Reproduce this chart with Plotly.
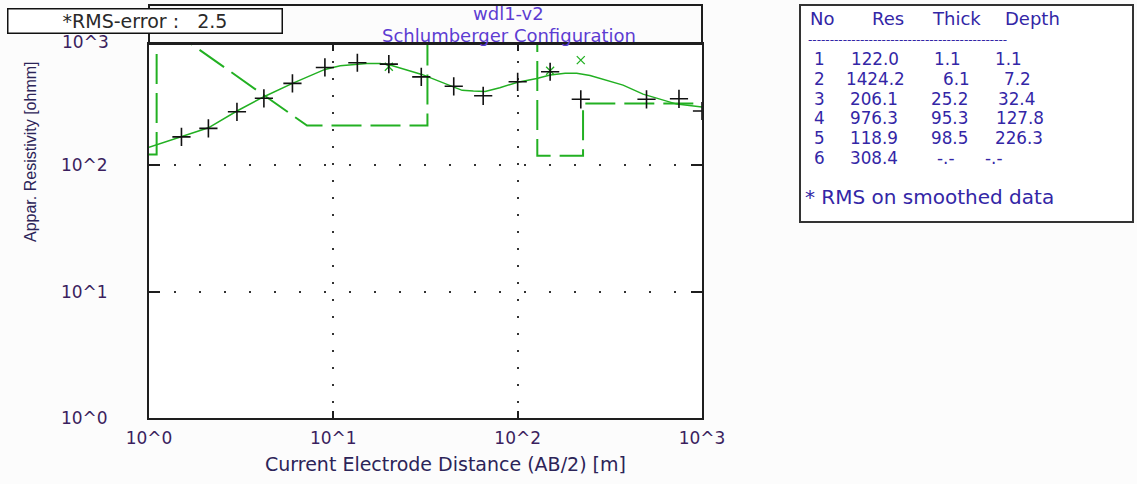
import plotly.graph_objects as go

# Field data: half current-electrode spacing AB/2 [m] and apparent resistivity [ohm.m]
ab2 = [1.5, 2.1, 3.0, 4.2, 6.0, 9.0, 13.5, 20.0, 30.0, 45.0, 65.0, 100.0,
       150.0, 220.0, 500.0, 750.0, 1000.0]
rho_obs = [168, 196, 265, 339, 445, 595, 648, 632, 501, 422, 355, 458,
           550, 333, 333, 336, 269]

# Smoothed readings where they depart from the field values
ab2_smooth = [20.0, 150.0, 220.0]
rho_smooth = [602, 560, 680]

# Calculated sounding curve of the layered model
calc_ab2 = [1.0, 1.5, 2.1, 3.0, 4.2, 6.0, 7.0, 9.0, 10.9, 15.2, 17.9, 20.3,
            30.2, 45.0, 50.0, 57.5, 66.6, 80.0, 100.0, 127.0, 150.0, 181.0,
            209.0, 247.0, 317.0, 373.0, 479.0, 615.0, 730.0, 1000.0]
calc_rho = [139, 168, 198, 269, 349, 445, 492, 574, 613, 640, 640, 621,
            524, 413, 392, 387, 384, 411, 455, 487, 518, 534,
            534, 513, 458, 431, 366, 328, 305, 289]

# Inverted layer model
layer_no = [1, 2, 3, 4, 5, 6]
layer_res = [122.0, 1424.2, 206.1, 976.3, 118.9, 308.4]
layer_thick = [1.1, 6.1, 25.2, 95.3, 98.5]
layer_depth = [1.1, 7.2, 32.4, 127.8, 226.3]

rms_error = 2.5
site_name = "wdl1-v2"
array_name = "Schlumberger Configuration"

x_ticks = [1, 10, 100, 1000]
x_ticktext = ["10^0", "10^1", "10^2", "10^3"]
y_ticks = [1, 10, 100]
y_ticktext = ["10^0", "10^1", "10^2"]
minor_vals = [m * 10 ** e for e in range(0, 3) for m in range(2, 10)]

GREEN = "#22b022"
AXIS_COLOR = "#1e1e1e"
TICK_COLOR = "#3b1f5e"
TITLE_COLOR = "#5d3cd2"
TABLE_COLOR = "#3326a6"
FONT = "DejaVu Sans"

W, H = 1137, 484
L, R, T, B = 149, 702, 44, 418
X_RANGE = [0, 3]
Y_RANGE = [0, 2.96]


def xp(px):
    return (px - L) / (R - L)


def yp(py):
    return (B - py) / (B - T)


def model_path(res, depth, x_start=1.0, x_end=1000.0, rho_top=1000.0):
    """Step curve of the layer model; a layer above rho_top is joined
    straight down to the next layer at its base."""
    xs, ys = [x_start], [res[0]]
    for i, d in enumerate(depth):
        if not (i > 0 and res[i] > rho_top):
            xs.append(d)
            ys.append(res[i])
        xs.append(d)
        ys.append(res[i + 1])
    xs.append(x_end)
    ys.append(res[-1])
    return xs, ys


mx, my = model_path(layer_res, layer_depth)

fig = go.Figure()

fig.add_trace(go.Scatter(
    x=mx, y=my, mode="lines",
    line=dict(color=GREEN, width=2, dash="30px,9px"),
    hoverinfo="skip", showlegend=False))

fig.add_trace(go.Scatter(
    x=calc_ab2, y=calc_rho, mode="lines",
    line=dict(color=GREEN, width=1.5),
    showlegend=False))

fig.add_trace(go.Scatter(
    x=ab2_smooth, y=rho_smooth, mode="markers",
    marker=dict(symbol="x-thin", size=8, line=dict(color=GREEN, width=1.3)),
    showlegend=False))

fig.add_trace(go.Scatter(
    x=ab2, y=rho_obs, mode="markers",
    marker=dict(symbol="cross-thin", size=13, line=dict(color="#111111", width=1.6)),
    showlegend=False))

axis_common = dict(
    type="log",
    ticks="inside",
    tickcolor=AXIS_COLOR,
    tickwidth=1.5,
    showline=True,
    linecolor=AXIS_COLOR,
    linewidth=2,
    mirror="ticks",
    showgrid=True,
    gridcolor="#333333",
    gridwidth=1.5,
    zeroline=False,
    tickfont=dict(family=FONT, size=17, color=TICK_COLOR),
)

fig.update_layout(
    xaxis=dict(
        **axis_common, range=X_RANGE,
        tickmode="array", tickvals=x_ticks, ticktext=x_ticktext,
        ticklen=7, griddash="2px,15px", ticklabelstandoff=4,
    ),
    yaxis=dict(
        **axis_common, range=Y_RANGE,
        tickmode="array", tickvals=y_ticks, ticktext=y_ticktext,
        ticklen=11, griddash="2px,23px", ticklabelstandoff=36,
    ),
    # short intermediate ticks on the bottom and left edges only
    xaxis2=dict(
        type="log", range=X_RANGE, overlaying="x", anchor="y2", side="bottom",
        tickmode="array", tickvals=minor_vals, ticks="inside", ticklen=4,
        tickwidth=1, tickcolor=AXIS_COLOR, showticklabels=False,
        showgrid=False, showline=False, zeroline=False,
    ),
    yaxis2=dict(
        type="log", range=Y_RANGE, overlaying="y", anchor="x2", side="left",
        tickmode="array", tickvals=minor_vals, ticks="inside", ticklen=4,
        tickwidth=1, tickcolor=AXIS_COLOR, showticklabels=False,
        showgrid=False, showline=False, zeroline=False,
    ),
)

shapes = [
    # frame round the title strip
    dict(type="rect", xref="paper", yref="paper",
         x0=xp(L), x1=xp(R), y0=yp(T), y1=yp(5),
         line=dict(color=AXIS_COLOR, width=2), fillcolor="rgba(0,0,0,0)"),
    # layer table frame
    dict(type="rect", xref="paper", yref="paper",
         x0=xp(800), x1=xp(1133), y0=yp(222), y1=yp(5),
         line=dict(color="#333333", width=2), fillcolor="white"),
]

annotations = []

# top decade label on the resistivity axis
annotations.append(dict(
    xref="paper", yref="paper", x=xp(111), y=yp(41.5),
    xanchor="right", yanchor="middle", showarrow=False, text="10^3",
    font=dict(family=FONT, size=17, color=TICK_COLOR)))

# RMS error box
annotations.append(dict(
    xref="paper", yref="paper", x=xp(145), y=yp(21),
    xanchor="center", yanchor="middle", showarrow=False,
    text=f"*RMS-error :\u00a0\u00a0\u00a0{rms_error}",
    width=273, height=23, borderpad=0, borderwidth=1.5,
    bordercolor="#111111", bgcolor="white", align="center",
    font=dict(family=FONT, size=19, color="#2a2a2a")))

# titles
annotations.append(dict(
    xref="paper", yref="paper", x=xp(508), y=yp(14),
    xanchor="center", yanchor="middle", showarrow=False, text=site_name,
    borderpad=0, font=dict(family=FONT, size=18, color=TITLE_COLOR)))
annotations.append(dict(
    xref="paper", yref="paper", x=xp(509), y=yp(35.5),
    xanchor="center", yanchor="middle", showarrow=False, text=array_name,
    borderpad=0, font=dict(family=FONT, size=18, color=TITLE_COLOR)))

# axis titles
annotations.append(dict(
    xref="paper", yref="paper", x=xp(445), y=yp(464),
    xanchor="center", yanchor="middle", showarrow=False,
    text="Current Electrode Distance (AB/2) [m]",
    font=dict(family=FONT, size=19, color="#2c2458")))
annotations.append(dict(
    xref="paper", yref="paper", x=xp(30), y=yp(152),
    xanchor="center", yanchor="middle", showarrow=False, textangle=-90,
    text="Appar. Resistivity [ohmm]",
    font=dict(family="Liberation Sans", size=16, color="#2c2458")))

# layer table (cells centred on their columns)
TABLE_SIZE = 16.8


def cell(text, x, y, anchor="center", size=TABLE_SIZE):
    annotations.append(dict(
        xref="paper", yref="paper", x=xp(x), y=yp(y),
        xanchor=anchor, yanchor="middle", showarrow=False, text=text,
        borderpad=0, font=dict(family=FONT, size=size, color=TABLE_COLOR)))


for text, x in zip(["No", "Res", "Thick", "Depth"], [822, 888, 956, 1032]):
    cell(text, x, 19, size=18)
cell("-" * 46, 807, 40, anchor="left", size=12)

row_y = [59.3 + 19.68 * i for i in range(len(layer_no))]
no_x = 819
res_x = [874.5, 875, 873.5, 873.5, 873.5, 873.5]
thick_x = [947.5, 956, 949.5, 949.5, 949.5, 945]
depth_x = [1008, 1017, 1016.5, 1020, 1019, 993]
for i, n in enumerate(layer_no):
    cell(str(n), no_x, row_y[i])
    cell(f"{layer_res[i]:.1f}", res_x[i], row_y[i])
    if i < len(layer_thick):
        cell(f"{layer_thick[i]:.1f}", thick_x[i], row_y[i])
        cell(f"{layer_depth[i]:.1f}", depth_x[i], row_y[i])
    else:
        cell("-.-", thick_x[i], row_y[i])
        cell("-.-", depth_x[i], row_y[i])
cell("* RMS on smoothed data", 804, 197, anchor="left", size=20)

fig.update_layout(
    width=W, height=H,
    margin=dict(l=L, r=W - R, t=T, b=H - B, pad=0),
    paper_bgcolor="#fcfcfc",
    plot_bgcolor="white",
    shapes=shapes,
    annotations=annotations,
    showlegend=False,
)

fig.write_html("out.html")
